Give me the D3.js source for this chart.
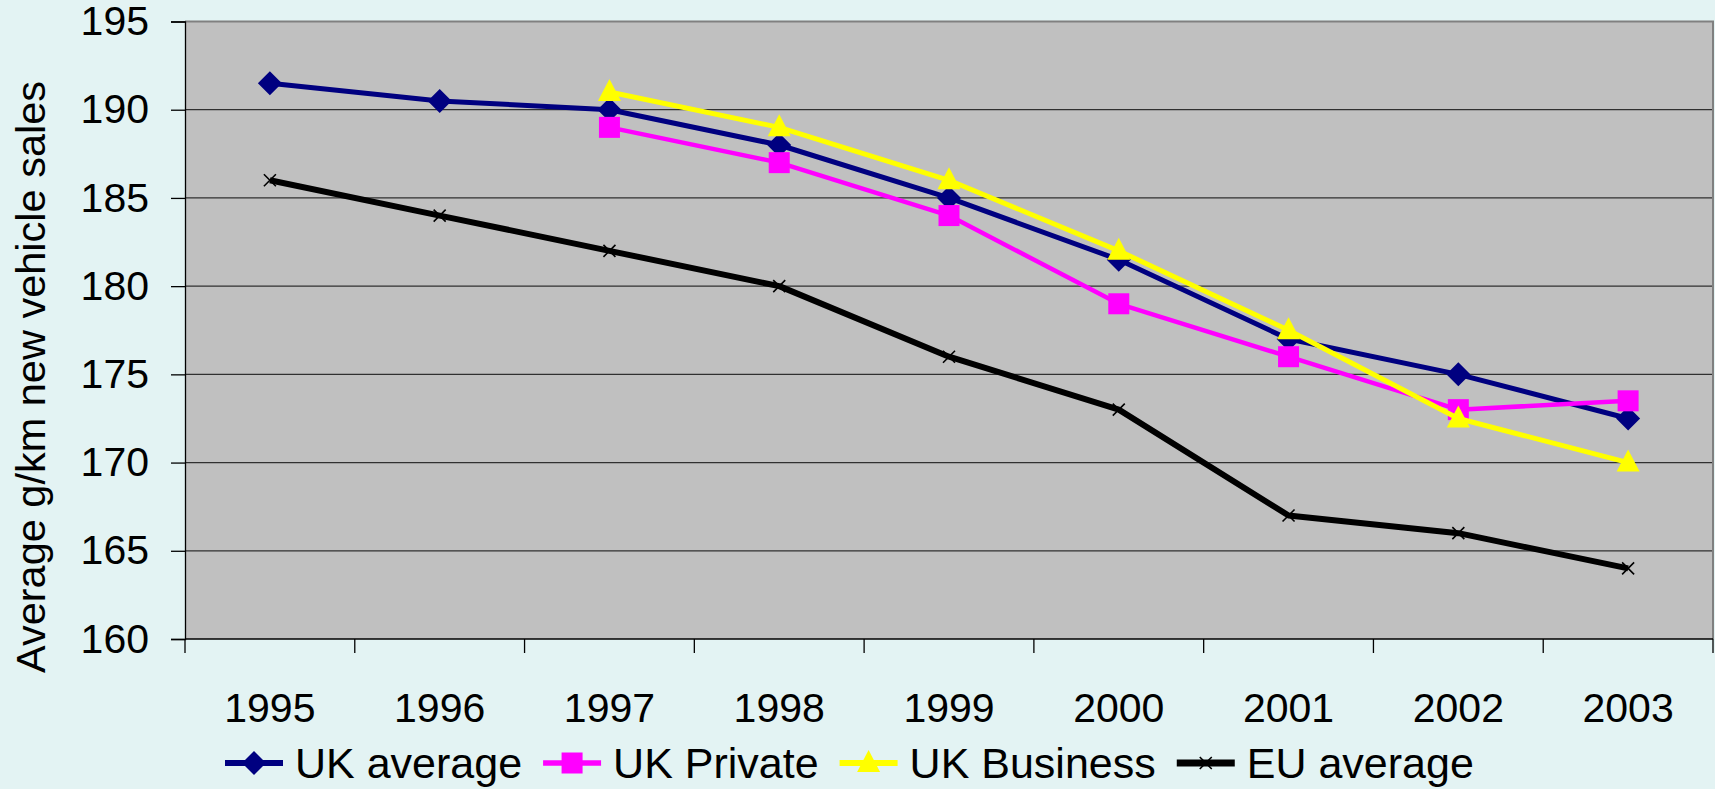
<!DOCTYPE html>
<html>
<head>
<meta charset="utf-8">
<script src="https://cdn.jsdelivr.net/npm/d3@7"></script>
<style>
  html, body { margin: 0; padding: 0; background: #e3f3f3; }
  svg { display: block; font-family: "Liberation Sans", Arial, sans-serif; }
</style>
</head>
<body>
<div id="chart"></div>
<script>
// data
const years = ['1995', '1996', '1997', '1998', '1999', '2000', '2001', '2002', '2003'];
const ukAverage = [191.5, 190.5, 190, 188, 185, 181.5, 177, 175, 172.5];
const ukPrivate = [null, null, 189, 187, 184, 179, 176, 173, 173.5];
const ukBusiness = [null, null, 191, 189, 186, 182, 177.5, 172.5, 170];
const euAverage = [186, 184, 182, 180, 176, 173, 167, 166, 164];
const yTicks = [160, 165, 170, 175, 180, 185, 190, 195];

const series = [
  { name: 'UK average', values: ukAverage, color: '#000080', width: 5, marker: 'diamond' },
  { name: 'UK Private', values: ukPrivate, color: '#ff00ff', width: 4.5, marker: 'square' },
  { name: 'UK Business', values: ukBusiness, color: '#ffff00', width: 5, marker: 'triangle' },
  { name: 'EU average', values: euAverage, color: '#000000', width: 6, marker: 'cross' }
];

const width = 1715, height = 789;
const margin = { top: 21.5, right: 2, bottom: 150, left: 185 };
const innerW = width - margin.left - margin.right;
const innerH = height - margin.top - margin.bottom;

const svg = d3.select('#chart').append('svg')
  .attr('width', width)
  .attr('height', height);

svg.append('rect').attr('width', width).attr('height', height).attr('fill', '#e3f3f3');

const g = svg.append('g').attr('transform', `translate(${margin.left},${margin.top})`);

const x = d3.scaleBand().domain(years).range([0, innerW]);
const y = d3.scaleLinear().domain([160, 195]).range([innerH, 0]);

// plot area
g.append('rect')
  .attr('width', innerW)
  .attr('height', innerH)
  .attr('fill', '#c0c0c0');

// gridlines
g.append('g').selectAll('line')
  .data(yTicks.slice(1))
  .join('line')
  .attr('x1', 0).attr('x2', innerW)
  .attr('y1', d => y(d)).attr('y2', d => y(d))
  .attr('stroke', '#000').attr('stroke-opacity', 0.75).attr('stroke-width', 1.2);

// border top/right
g.append('path')
  .attr('d', `M0,0H${innerW}V${innerH}`)
  .attr('fill', 'none').attr('stroke', '#808080').attr('stroke-width', 2);

// y axis
const yAxis = g.append('g')
  .call(d3.axisLeft(y).tickValues(yTicks).tickSize(14).tickPadding(22));
yAxis.select('.domain').attr('stroke', '#000').attr('stroke-width', 1.3);
yAxis.selectAll('.tick line').attr('stroke', '#000').attr('stroke-width', 1.3);
yAxis.selectAll('text').attr('font-size', 41).attr('fill', '#000')
  .attr('font-family', '"Liberation Sans", Arial, sans-serif');

// x axis with ticks on band boundaries
const xAxis = g.append('g').attr('transform', `translate(0,${innerH})`);
xAxis.append('line').attr('x1', 0).attr('x2', innerW)
  .attr('stroke', '#000').attr('stroke-width', 1.3);
xAxis.selectAll('.xtick')
  .data(years.concat(['end']))
  .join('line')
  .attr('x1', (d, i) => i < years.length ? x(d) : innerW)
  .attr('x2', (d, i) => i < years.length ? x(d) : innerW)
  .attr('y1', 0).attr('y2', 14)
  .attr('stroke', '#000').attr('stroke-width', 1.3);
xAxis.selectAll('.xlabel')
  .data(years)
  .join('text')
  .attr('x', d => x(d) + x.bandwidth() / 2)
  .attr('y', 83)
  .attr('text-anchor', 'middle')
  .attr('font-size', 41)
  .text(d => d);

// y title
svg.append('text')
  .attr('transform', `translate(45,377) rotate(-90)`)
  .attr('text-anchor', 'middle')
  .attr('font-size', 41.5)
  .text('Average g/km new vehicle sales');

const cx = d => x(d) + x.bandwidth() / 2;

function drawMarker(sel, s) {
  if (s.marker === 'diamond') {
    sel.append('path').attr('d', 'M0,-12L12,0L0,12L-12,0Z').attr('fill', s.color);
  } else if (s.marker === 'square') {
    sel.append('rect').attr('x', -10.5).attr('y', -10.5).attr('width', 21).attr('height', 21).attr('fill', s.color);
  } else if (s.marker === 'triangle') {
    sel.append('path').attr('d', 'M0,-13L11.5,9L-11.5,9Z').attr('fill', s.color);
  } else {
    sel.append('path').attr('d', 'M-6,-6L6,6M-6,6L6,-6').attr('stroke', s.color).attr('stroke-width', 1.6);
  }
}

const line = d3.line()
  .defined(d => d.v != null)
  .x(d => cx(d.year))
  .y(d => y(d.v));

series.forEach(s => {
  const pts = years.map((year, i) => ({ year, v: s.values[i] }));
  g.append('path')
    .datum(pts)
    .attr('fill', 'none')
    .attr('stroke', s.color)
    .attr('stroke-width', s.width)
    .attr('stroke-linejoin', 'round')
    .attr('d', line);
  g.append('g').selectAll('g')
    .data(pts.filter(d => d.v != null))
    .join('g')
    .attr('transform', d => `translate(${cx(d.year)},${y(d.v)})`)
    .each(function() { drawMarker(d3.select(this), s); });
});

// legend
const legend = svg.append('g').attr('transform', 'translate(225,778)');
let lx = 0;
series.forEach(s => {
  const item = legend.append('g').attr('transform', `translate(${lx},0)`);
  item.append('line').attr('x1', 0).attr('x2', 58).attr('y1', -15).attr('y2', -15)
    .attr('stroke', s.color).attr('stroke-width', s.width + 1);
  drawMarker(item.append('g').attr('transform', 'translate(29,-15)'), s);
  const t = item.append('text').attr('x', 70).attr('y', 0).attr('font-size', 43).text(s.name);
  lx += 70 + t.node().getComputedTextLength() + 21;
});
</script>
</body>
</html>
